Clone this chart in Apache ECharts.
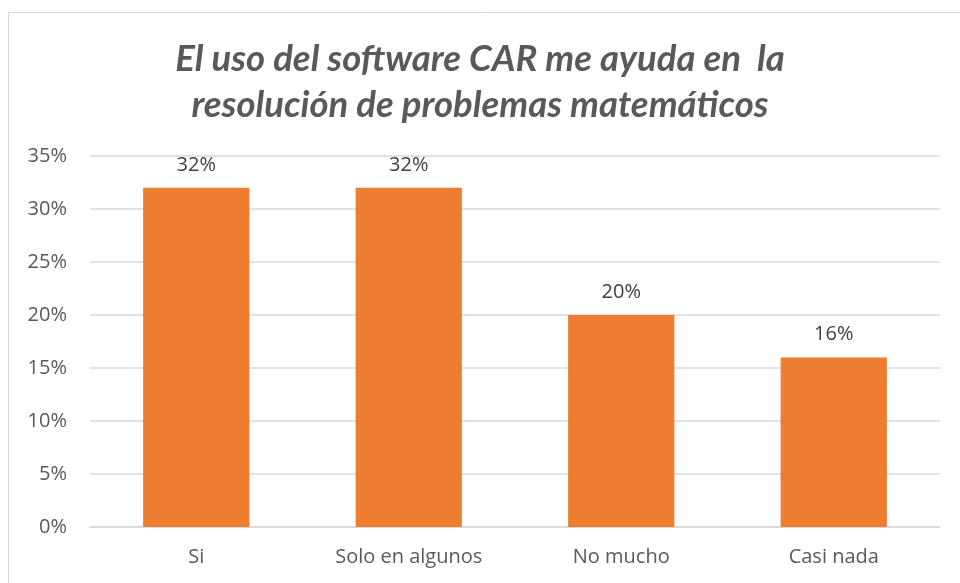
<!DOCTYPE html>
<html><head><meta charset="utf-8">
<script src="https://cdn.jsdelivr.net/npm/echarts@6/dist/echarts.min.js"></script>
<style>html,body{margin:0;padding:0;background:#fff}#c{width:960px;height:583px}</style>
</head><body><div id="c"></div>
<script>
const categories = ['Si', 'Solo en algunos', 'No mucho', 'Casi nada'];
const values = [0.32, 0.32, 0.20, 0.16];
const titleText = 'El uso del software CAR me ayuda en  la\nresolución de problemas matemáticos';

const chart = echarts.init(document.getElementById('c'));
chart.setOption({
  animation: false,
  graphic: [{
    type: 'rect', shape: {x: 8.5, y: 12.5, width: 1000, height: 1000},
    style: {fill: 'none', stroke: '#D9D9D9', lineWidth: 1}, silent: true, z: -1
  }],
  title: {
    text: titleText, left: 'center', top: 31,
    textStyle: {fontFamily: 'Lato', fontStyle: 'italic', fontWeight: 'bold', fontSize: 36.5, color: '#595959', lineHeight: 46}
  },
  grid: {left: 90, right: 20, top: 156, bottom: 56},
  xAxis: {
    type: 'category', data: categories,
    axisLine: {lineStyle: {color: '#D9D9D9', width: 1.5}},
    axisTick: {show: false},
    axisLabel: {color: '#595959', fontSize: 20, fontFamily: 'Open Sans', margin: 20}
  },
  yAxis: {
    type: 'value', min: 0, max: 0.35, interval: 0.05,
    axisLine: {show: false}, axisTick: {show: false},
    splitLine: {lineStyle: {color: '#D9D9D9', width: 1.5}},
    axisLabel: {color: '#595959', fontSize: 20, fontFamily: 'Open Sans', margin: 23,
      formatter: v => Math.round(v * 100) + '%'}
  },
  series: [{
    type: 'bar', data: values, barWidth: '50%',
    itemStyle: {color: '#ED7D31'},
    label: {show: true, position: 'top', distance: 13, color: '#404040', fontSize: 20, fontFamily: 'Open Sans',
      formatter: p => Math.round(p.value * 100) + '%'}
  }]
});
</script></body></html>
